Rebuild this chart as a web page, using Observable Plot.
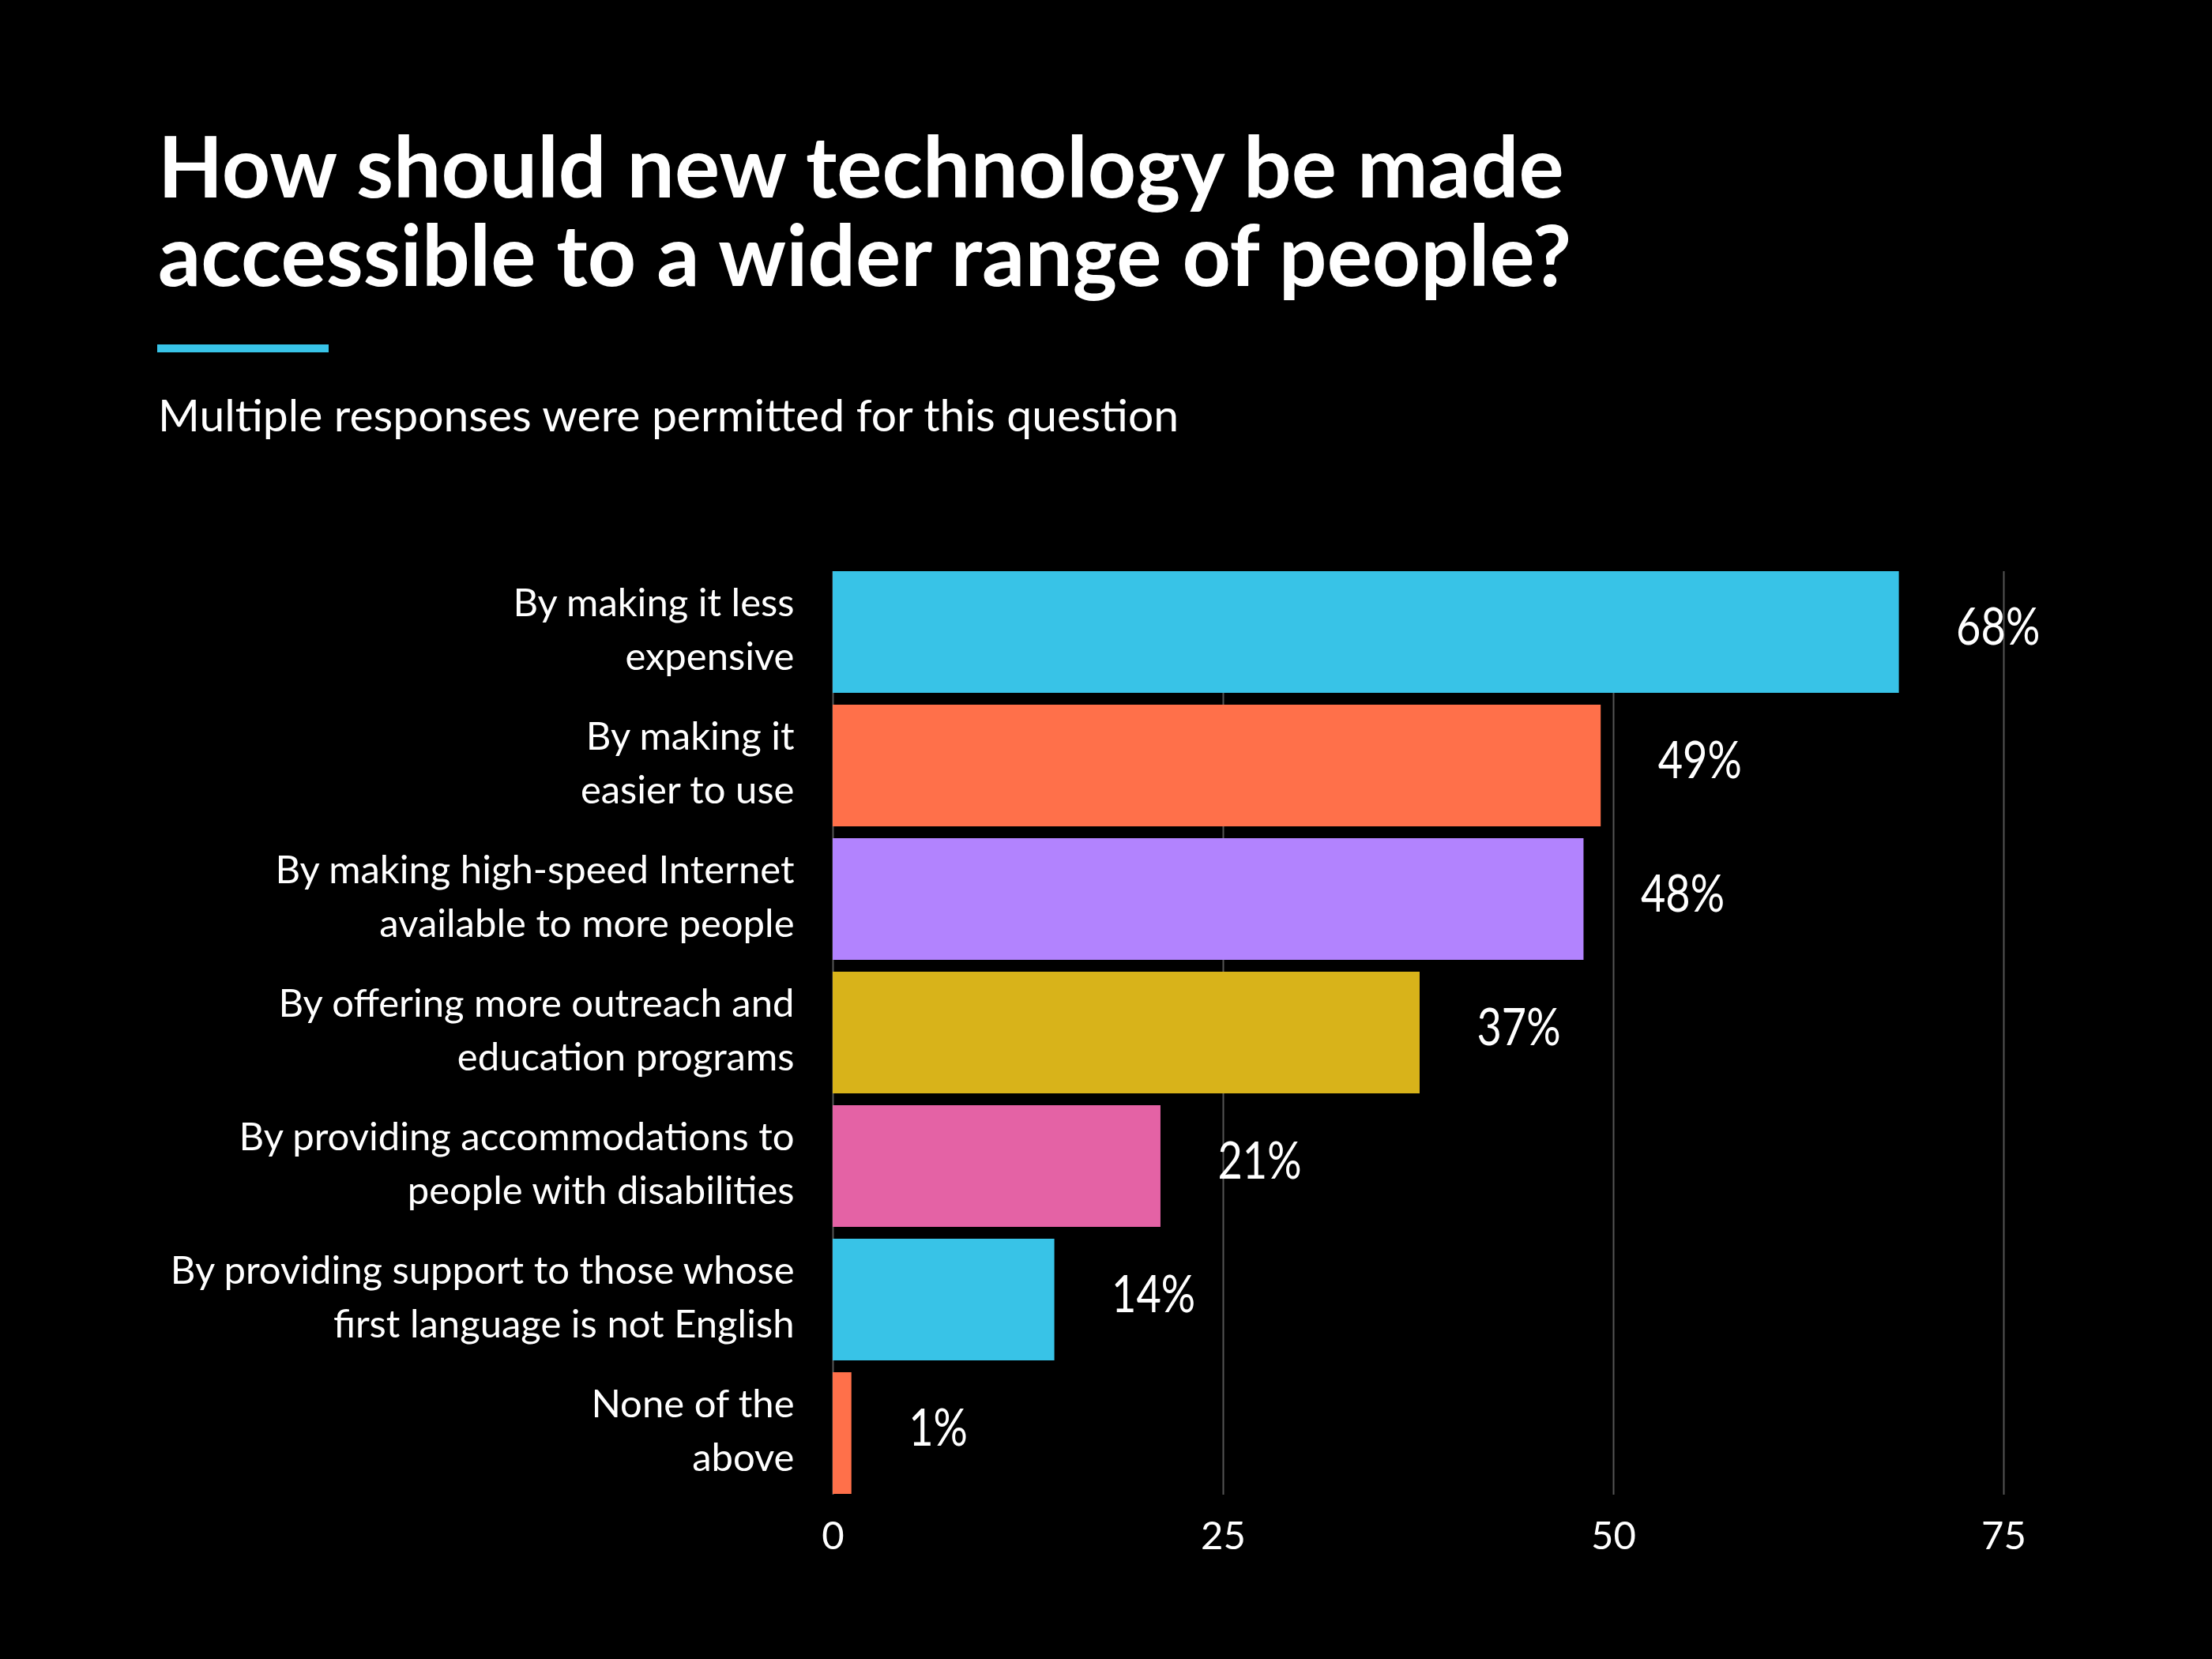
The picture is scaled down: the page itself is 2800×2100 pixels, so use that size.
<!DOCTYPE html>
<html>
<head>
<meta charset="utf-8">
<script src="https://cdn.jsdelivr.net/npm/d3@7"></script>
<script src="https://cdn.jsdelivr.net/npm/@observablehq/plot@0.6"></script>
<style>
  html, body { margin: 0; padding: 0; background: #000; }
  #page { position: relative; width: 2800px; height: 2100px; background: #000; overflow: hidden; }
  .title { position: absolute; left: 200px; margin: 0; color: #fff;
           font-family: Lato, "Liberation Sans", sans-serif; font-weight: 700;
           font-size: 107px; line-height: 112px; white-space: nowrap; }
  #rule { position: absolute; left: 199px; top: 436px; width: 217px; height: 10px; background: #38C3E7; }
  #subtitle { position: absolute; left: 200px; top: 496px; margin: 0; color: #fff;
              font-family: Lato, "Liberation Sans", sans-serif; font-size: 57px; line-height: 57px; white-space: nowrap; }
  #chart { position: absolute; left: 0; top: 640px; }
</style>
</head>
<body>
<div id="page">
  <div class="title" style="top:153px">How should new technology be made</div>
  <div class="title" style="top:265px">accessible to a wider range of people?</div>
  <div id="rule"></div>
  <p id="subtitle">Multiple responses were permitted for this question</p>
  <div id="chart"></div>
</div>
<script>
const categories = [
  "By making it less\nexpensive",
  "By making it\neasier to use",
  "By making high-speed Internet\navailable to more people",
  "By offering more outreach and\neducation programs",
  "By providing accommodations to\npeople with disabilities",
  "By providing support to those whose\nfirst language is not English",
  "None of the\nabove"
];
const values = [68.3, 49.2, 48.1, 37.6, 21.0, 14.2, 1.2];
const valueLabels = ["68%", "49%", "48%", "37%", "21%", "14%", "1%"];
const barColors = ["#38C3E7", "#FF704A", "#B283FE", "#D8B31A", "#E462A5", "#38C3E7", "#FF704A"];
const xTicks = [0, 25, 50, 75];

const data = categories.map((c, i) => ({category: c, value: values[i], label: valueLabels[i]}));

const chart = Plot.plot({
  width: 2800,
  height: 1400,
  marginLeft: 1054,
  marginRight: 264,
  marginTop: 83,
  marginBottom: 148,
  style: {background: "transparent", color: "#fff", fontFamily: "Lato, 'Liberation Sans', sans-serif"},
  x: {domain: [0, 75], ticks: xTicks, label: null},
  y: {domain: categories, paddingInner: 0.088, paddingOuter: 0, label: null},
  color: {domain: categories, range: barColors},
  marks: [
    Plot.ruleX(xTicks, {stroke: "#555", strokeWidth: 2}),
    Plot.barX(data, {x: "value", y: "category", fill: "category"}),
    Plot.text(data, {x: "value", y: "category", text: "label", dx: 72, dy: -6, textAnchor: "start",
                     fill: "#fff", fontSize: 66, className: "value-label"}),
    Plot.axisX({ticks: xTicks, tickSize: 0, tickPadding: 34, fontSize: 49, color: "#fff", label: null}),
    Plot.axisY({tickSize: 0, tickPadding: 49, fontSize: 49, lineHeight: 1.37, dy: -8, color: "#fff", label: null})
  ]
});
// condense the value labels horizontally to match the narrow figures of the original
chart.querySelectorAll("g.value-label text").forEach(t => {
  const tr = t.getAttribute("transform") || "";
  t.setAttribute("transform", tr + " scale(0.82,1)");
});
document.getElementById("chart").appendChild(chart);
</script>
</body>
</html>
